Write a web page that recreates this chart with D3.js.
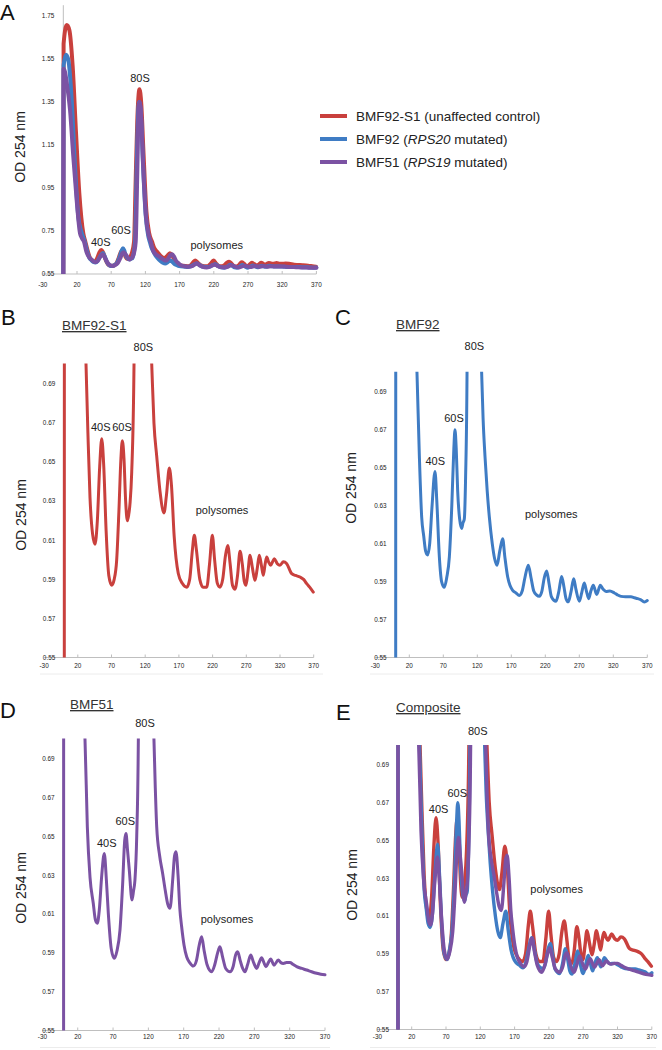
<!DOCTYPE html>
<html lang="en">
<head>
<meta charset="UTF-8" />
<title>Polysome profiles</title>
<script src="https://d3js.org/d3.v7.min.js"></script>
<style>
  body { margin: 0; background: #fff; }
  svg text { font-family: "Liberation Sans", Arial, sans-serif; }
  .tick-label { font-size: 6.4px; fill: #222; }
  .axis-line { stroke: #bfbfbf; stroke-width: 1; fill: none; }
  .trace { fill: none; stroke-linejoin: round; stroke-linecap: round; }
  .note { font-size: 11px; fill: #222; }
</style>
</head>
<body>
<script>
// axis ticks
const xTicks = [-30, 20, 70, 120, 170, 220, 270, 320, 370];
const yTicksFull = [0.55, 0.75, 0.95, 1.15, 1.35, 1.55, 1.75];
const yTicksZoom = [0.55, 0.57, 0.59, 0.61, 0.63, 0.65, 0.67, 0.69];

// traces: [fraction position, OD 254]
const redTrace = [
  [0,0.55],[0.4,1.62],[5,1.708],[8.8,1.685],[13.7,1.514],[18.6,1.204],[23.4,0.925],[29.2,0.739],
  [32.2,0.700],[35,0.665],[38.1,0.632],[42,0.613],[45.5,0.608],[49,0.620],[52.5,0.648],[55.5,0.662],
  [58.5,0.648],[62,0.615],[66,0.592],[70.3,0.587],[74,0.590],[77.7,0.600],[81,0.625],[84,0.652],
  [86.1,0.661],[88.5,0.652],[91,0.630],[93.5,0.620],[95.5,0.623],[97.5,0.629],[100,0.645],[103.4,0.700],
  [105.5,0.95],[108,1.25],[111.3,1.409],[114,1.34],[117,1.13],[121.5,0.84],[125.5,0.74],[129.7,0.700],
  [133,0.670],[137.1,0.653],[142,0.635],[147.9,0.624],[151.5,0.633],[155.8,0.647],[159,0.638],[163,0.612],
  [169.1,0.593],[175,0.588],[181.6,0.586],[186,0.590],[190,0.605],[192.9,0.6126],[196,0.605],[201,0.590],
  [206,0.586],[211.3,0.586],[215.5,0.598],[219.6,0.6126],[223,0.600],[227,0.588],[231,0.586],[235,0.590],
  [239,0.602],[242.4,0.6074],[246,0.598],[249.5,0.587],[253.3,0.585],[257,0.592],[260.7,0.6044],[264,0.598],
  [267,0.589],[269.6,0.587],[272.5,0.594],[275.5,0.6023],[279,0.596],[282.9,0.5895],[286,0.595],[289.3,0.6023],
  [292.5,0.597],[295.3,0.5921],[298,0.598],[300.3,0.6014],[303,0.599],[306.2,0.5972],[309,0.599],[311.6,0.6006],
  [316,0.598],[320,0.5972],[325,0.599],[330,0.598],[337.4,0.5929],[343,0.592],[349.7,0.5912],[355,0.590],
  [359.6,0.5878],[364,0.586],[369.4,0.5835]
];
const blueTrace = [
  [0,0.55],[0.4,1.52],[4,1.569],[7.3,1.545],[12.3,1.359],[17.1,1.049],[21.9,0.816],[26.5,0.745],
  [31.3,0.700],[34.8,0.656],[38.2,0.624],[41.2,0.614],[44,0.606],[47,0.604],[50,0.610],[53.5,0.630],
  [57.8,0.648],[60.5,0.632],[64.2,0.603],[67.5,0.590],[71.5,0.587],[75,0.592],[78.9,0.603],[82.5,0.630],
  [85.5,0.660],[87.2,0.670],[89,0.660],[91.1,0.638],[94,0.623],[97,0.618],[99,0.621],[100.9,0.623],
  [102.8,0.645],[104.9,0.700],[107,1.00],[109.5,1.30],[111,1.350],[113.5,1.29],[116.5,1.06],[120.5,0.82],
  [124,0.73],[126.4,0.700],[128.5,0.676],[131.3,0.656],[134.5,0.638],[137.7,0.624],[142,0.610],[145.5,0.602],
  [149,0.5986],[153,0.606],[157.3,0.6126],[160.5,0.603],[164.7,0.5924],[168,0.588],[172,0.5854],[177,0.584],
  [181.8,0.5827],[186,0.585],[190,0.592],[195,0.5986],[199,0.592],[203,0.585],[207,0.583],[211.2,0.5822],
  [215,0.585],[218.5,0.592],[222,0.5955],[225.5,0.589],[229,0.582],[235.7,0.5796],[240,0.585],[244,0.5927],
  [247.5,0.587],[250.5,0.581],[253.8,0.5793],[258,0.585],[261.8,0.5915],[265,0.586],[270,0.5796],[273.5,0.584],
  [277.3,0.5892],[280.5,0.585],[283.8,0.581],[287,0.585],[290.6,0.588],[295.6,0.5832],[300.9,0.588],[305,0.586],
  [309.3,0.5848],[315,0.585],[321.5,0.584],[326,0.583],[331.3,0.5822],[338,0.582],[346,0.582],[351,0.5815],
  [355.9,0.581],[360,0.5805],[365.6,0.5792],[370,0.580]
];
const purpleTrace = [
  [0,0.55],[0.4,1.505],[2.5,1.49],[5,1.44],[9.8,1.313],[14.6,1.096],[19.5,0.894],[24.4,0.739],
  [27.5,0.715],[30.3,0.700],[33.6,0.655],[37.4,0.629],[42,0.6156],[45,0.607],[47.7,0.6053],[50.5,0.612],
  [54,0.630],[57.6,0.6413],[60.5,0.628],[63.3,0.6104],[67.5,0.592],[71.8,0.5872],[75.5,0.591],[79.8,0.6018],
  [83.5,0.625],[86.5,0.648],[88.3,0.6516],[90.5,0.643],[93,0.6327],[96.8,0.6173],[99,0.622],[101,0.6276],
  [103.5,0.650],[105.8,0.700],[108,1.00],[110,1.30],[111.3,1.350],[113.5,1.30],[116.5,1.07],[120.5,0.83],
  [124.5,0.735],[127.9,0.700],[129.8,0.675],[131.8,0.655],[136,0.640],[140.2,0.631],[144,0.622],[147.5,0.615],
  [150.6,0.613],[154.5,0.628],[157,0.640],[159.1,0.6422],[162,0.630],[164.5,0.613],[167.1,0.6035],[170.5,0.594],
  [174.2,0.588],[178.5,0.585],[183.6,0.5832],[188,0.586],[192,0.594],[195.4,0.5984],[199,0.591],[203,0.584],
  [209.6,0.5803],[214,0.584],[218,0.590],[221.3,0.5932],[225,0.588],[229.5,0.582],[235.5,0.5803],[240,0.583],
  [243.5,0.589],[246.4,0.5906],[250,0.586],[253.5,0.582],[256.7,0.5803],[260.5,0.584],[264.8,0.5889],[269,0.585],
  [273.3,0.582],[276.8,0.585],[280.3,0.5875],[283.5,0.585],[286.4,0.5829],[289.8,0.585],[293.1,0.5869],[297.8,0.5837],
  [303.9,0.5863],[307.5,0.585],[311,0.5846],[315.5,0.585],[320.4,0.585],[325,0.584],[329.9,0.5829],[337,0.582],
  [344,0.5812],[351,0.5803],[358.2,0.5795],[364,0.579],[370,0.5787]
];

// peak labels per panel: [text, x, y] in data units
const notesA = [["80S",112.1,1.443],["40S",54.8,0.680],["60S",84.4,0.736],["polysomes",224.3,0.666]];
const notesB = [["80S",117.2,0.7071],["40S",54,0.6658],["60S",85.6,0.6658],["polysomes",234,0.6235]];
const notesC = [["80S",115.6,0.7117],["60S",85.7,0.6739],["40S",58.2,0.6516],["polysomes",228.8,0.6236]];
const notesD = [["80S",115.2,0.7067],["60S",87.3,0.656],["40S",61,0.6445],["polysomes",231.2,0.6054]];
const notesE = [["80S",116.2,0.7058],["60S",86.4,0.6729],["40S",59.3,0.6644],["polysomes",231.3,0.6222]];

const RED = "#c9403d", BLUE = "#3f7cc4", PURPLE = "#7b52a3";

const legendItems = [
  { color: RED,    parts: [["BMF92-S1 (unaffected control)", false]] },
  { color: BLUE,   parts: [["BMF92 (", false], ["RPS20", true], [" mutated)", false]] },
  { color: PURPLE, parts: [["BMF51 (", false], ["RPS19", true], [" mutated)", false]] }
];

const svg = d3.select("body").append("svg")
  .attr("width", 662).attr("height", 1050);

const panels = [
  { key: "A", xr: [42.8, 316.4], yr: [274, 5.2], yDom: [0.55, 1.80], yTicks: yTicksFull,
    traces: [[redTrace, RED], [blueTrace, BLUE], [purpleTrace, PURPLE]], lw: 4,
    letter: [0, 20], title: [20, 147], notes: notesA, labOff: 12.5 },
  { key: "B", xr: [44.1, 313.7], yr: [657.5, 364.5], yDom: [0.55, 0.70], yTicks: yTicksZoom,
    traces: [[redTrace, RED]], lw: 3, letter: [1, 325], title: [21, 515],
    sub: ["BMF92-S1", 62, 330], notes: notesB, labOff: 10.5, frame: [40, 323, 674] },
  { key: "C", xr: [375.3, 647.3], yr: [657.5, 372.7], yDom: [0.55, 0.70], yTicks: yTicksZoom,
    traces: [[blueTrace, BLUE]], lw: 3, letter: [335, 325], title: [351, 488],
    sub: ["BMF92", 396, 329], notes: notesC, labOff: 10.5, frame: [370, 654, 674] },
  { key: "D", xr: [42.4, 325], yr: [1030.5, 739.6], yDom: [0.55, 0.70], yTicks: yTicksZoom,
    traces: [[purpleTrace, PURPLE]], lw: 3, letter: [0, 718], title: [21, 888],
    sub: ["BMF51", 70, 709], notes: notesD, labOff: 8.5, frame: [40, 330, 1047.5] },
  { key: "E", xr: [377.4, 651.8], yr: [1029.5, 746], yDom: [0.55, 0.70], yTicks: yTicksZoom,
    traces: [[redTrace, RED], [blueTrace, BLUE], [purpleTrace, PURPLE]], lw: 3.4,
    letter: [336, 720], title: [352, 885], sub: ["Composite", 396, 712], notes: notesE,
    labOff: 9.5, frame: [370, 656, 1047.5] }
];

panels.forEach(p => {
  const x = d3.scaleLinear().domain([-30, 370]).range(p.xr);
  const y = d3.scaleLinear().domain(p.yDom).range(p.yr);
  const g = svg.append("g");

  // clip traces to the plotting area
  g.append("clipPath").attr("id", "clip" + p.key)
    .append("rect")
      .attr("x", p.xr[0]).attr("y", p.yr[1] - 1)
      .attr("width", p.xr[1] - p.xr[0] + 3).attr("height", p.yr[0] - p.yr[1] + 1);

  if (p.frame) {
    g.append("line").attr("x1", p.frame[0]).attr("x2", p.frame[1])
      .attr("y1", p.frame[2]).attr("y2", p.frame[2])
      .attr("stroke", "#ececec").attr("stroke-width", 1);
  }

  // x axis (line from -30, ticks pointing up)
  const y0 = y(p.yDom[0]);
  g.append("line").attr("class", "axis-line")
    .attr("x1", x(-30)).attr("x2", x(370)).attr("y1", y0).attr("y2", y0);
  g.selectAll(".xt").data(xTicks.slice(1)).enter().append("line")
    .attr("class", "axis-line")
    .attr("x1", d => x(d)).attr("x2", d => x(d)).attr("y1", y0).attr("y2", y0 - 3);
  g.selectAll(".xl").data(xTicks).enter().append("text")
    .attr("class", "tick-label")
    .attr("x", d => x(d)).attr("y", y0 + p.labOff)
    .attr("text-anchor", "middle")
    .text(d => d);

  // y axis crossing at 0
  g.append("line").attr("class", "axis-line")
    .attr("x1", x(0)).attr("x2", x(0)).attr("y1", y0).attr("y2", p.yr[1]);
  g.selectAll(".yl").data(p.yTicks).enter().append("text")
    .attr("class", "tick-label")
    .attr("x", x(0) - 9).attr("y", d => y(d)).attr("dy", "0.35em")
    .attr("text-anchor", "end")
    .text(d => d3.format(".2f")(d));

  // traces
  const line = d3.line().x(d => x(d[0])).y(d => y(d[1])).curve(d3.curveMonotoneX);
  const tg = g.append("g").attr("clip-path", `url(#clip${p.key})`);
  p.traces.forEach(([data, color]) => {
    tg.append("path").attr("class", "trace")
      .attr("d", line(data))
      .attr("stroke", color).attr("stroke-width", p.lw);
  });

  // peak labels
  g.selectAll(".note").data(p.notes).enter().append("text")
    .attr("class", "note")
    .attr("x", d => x(d[1])).attr("y", d => y(d[2]))
    .attr("text-anchor", "middle")
    .text(d => d[0]);

  // axis title
  g.append("text")
    .attr("transform", `translate(${p.title[0]},${p.title[1]}) rotate(-90)`)
    .attr("text-anchor", "middle").attr("dy", "0.35em")
    .style("font-size", "14px").attr("fill", "#222")
    .text("OD 254 nm");

  // panel letter
  g.append("text").attr("x", p.letter[0]).attr("y", p.letter[1])
    .style("font-size", "22px").attr("fill", "#111")
    .text(p.key);

  if (p.sub) {
    g.append("text").attr("x", p.sub[1]).attr("y", p.sub[2])
      .style("font-size", "13.5px").attr("fill", "#333")
      .attr("text-decoration", "underline")
      .text(p.sub[0]);
  }
});

// legend for panel A
const leg = svg.append("g");
legendItems.forEach((item, i) => {
  const cy = 116 + i * 23;
  leg.append("line").attr("x1", 320).attr("x2", 347).attr("y1", cy).attr("y2", cy)
    .attr("stroke", item.color).attr("stroke-width", 4);
  const t = leg.append("text").attr("x", 356).attr("y", cy + 4.8)
    .style("font-size", "13.5px").attr("fill", "#222");
  item.parts.forEach(([s, it]) => {
    t.append("tspan").style("font-style", it ? "italic" : "normal").text(s);
  });
});
</script>
</body>
</html>
